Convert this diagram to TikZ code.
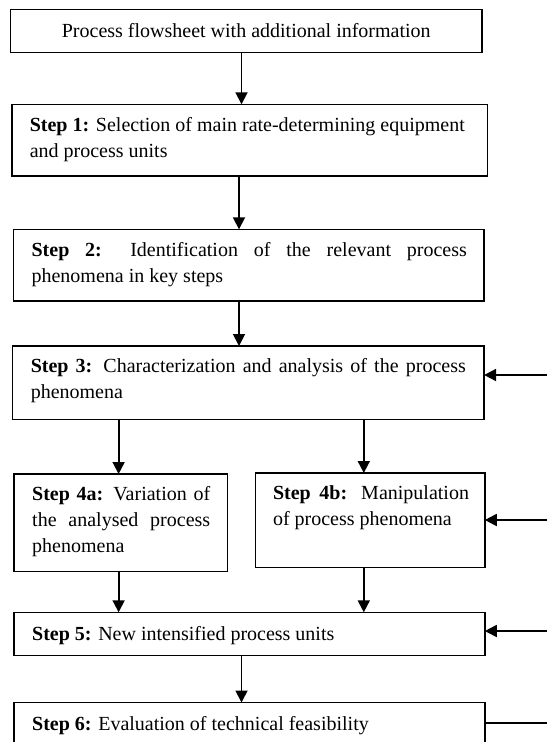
\documentclass[tikz,border=0pt]{standalone}
\usepackage{fontspec}
\setmainfont{Liberation Serif}
\usetikzlibrary{arrows.meta}
\begin{document}
\begin{tikzpicture}[x=1pt,y=-1pt,
  box/.style={draw, line width=1.5pt, anchor=north west, inner sep=0pt, outer sep=0pt},
  bodyfont/.style={font=\fontsize{20}{26}\selectfont},
  txt/.style={bodyfont, anchor=north west, inner sep=0pt},
  jtxt/.style={txt, align=justify},
  arr/.style={line width=1.8pt, -{Triangle[length=12pt,width=12pt]}},
  ln/.style={line width=1.8pt}]
\useasboundingbox[fill=white] (0,0) rectangle (547,742);
% boxes
\node[box, bodyfont, minimum width=471.5pt, minimum height=43.4pt] (b0) at (10.5,9.3) {Process flowsheet with additional information};
\node[box, minimum width=475.1pt, minimum height=71.7pt] (b1) at (12.2,104.3) {};
\node[box, minimum width=470.5pt, minimum height=71.7pt] (b2) at (13.3,229.3) {};
\node[box, minimum width=471.5pt, minimum height=73.3pt] (b3) at (12.6,346) {};
\node[box, minimum width=213.4pt, minimum height=97.7pt] (a4) at (14,474) {};
\node[box, minimum width=229.1pt, minimum height=94.3pt] (b4) at (255.7,473) {};
\node[box, minimum width=470.8pt, minimum height=43.4pt] (b5) at (14,612.3) {};
\node[box, minimum width=470.8pt, minimum height=70pt] (b6) at (14,702.5) {};
% texts
\node[jtxt, text width=435pt] (t1) at ([shift={(17.4pt,-8.3pt)}]b1.north west) {\strut\textbf{Step 1:} Selection of main rate-determining equipment\linebreak and process units};
\node[jtxt, text width=435.3pt] (t2) at ([shift={(18.1pt,-8.3pt)}]b2.north west) {\strut\textbf{Step 2:} Identification of the relevant process\linebreak phenomena in key steps};
\node[jtxt, text width=435pt] (t3) at ([shift={(18pt,-8.3pt)}]b3.north west) {\strut\textbf{Step 3:} Characterization and analysis of the process\linebreak phenomena};
\node[jtxt, text width=178pt] (t4a) at ([shift={(18pt,-8.3pt)}]a4.north west) {\strut\textbf{Step 4a:} Variation of\linebreak the analysed process\linebreak phenomena};
\node[jtxt, text width=196pt] (t4b) at ([shift={(17.1pt,-8pt)}]b4.north west) {\strut\textbf{Step 4b:} Manipulation\linebreak of process phenomena};
\node[txt] (t5) at ([shift={(18pt,-9.5pt)}]b5.north west) {\strut\textbf{Step 5:} New intensified process units};
\node[txt] (t6) at ([shift={(18pt,-9.3pt)}]b6.north west) {\strut\textbf{Step 6:} Evaluation of technical feasibility};
% helper coordinates
\coordinate (xa) at (241.5,0);
\coordinate (xb) at (239,0);
\coordinate (xl) at (118.6,0);
\coordinate (xr) at (363.8,0);
\coordinate (f3) at (547,375);
\coordinate (f4) at (547,520);
\coordinate (f5) at (547,631);
\coordinate (f6) at (547,723);
% connectors
\draw[arr] (b0.south -| xa) -- (b1.north -| xa);
\draw[arr] (b1.south -| xb) -- (b2.north -| xb);
\draw[arr] (b2.south -| xb) -- (b3.north -| xb);
\draw[arr] (b3.south -| xl) -- (a4.north -| xl);
\draw[arr] (b3.south -| xr) -- (b4.north -| xr);
\draw[arr] (a4.south -| xl) -- (b5.north -| xl);
\draw[arr] (b4.south -| xr) -- (b5.north -| xr);
\draw[arr] (b5.south -| xa) -- (b6.north -| xa);
\draw[arr] (f3) -- (f3 -| b3.east);
\draw[arr] (f4) -- (f4 -| b4.east);
\draw[arr] (f5) -- (f5 -| b5.east);
\draw[ln] (b6.east |- f6) -- (f6);
\end{tikzpicture}
\end{document}
